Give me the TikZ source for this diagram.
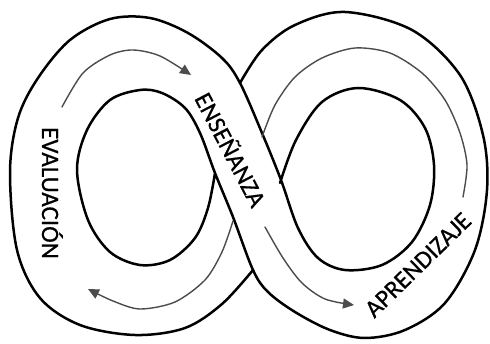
\documentclass[tikz,border=0pt]{standalone}
\usepackage{fontspec}
\setmainfont{Carlito}
\newfontfamily\lblfont[FakeBold=0.6]{Carlito}
\usetikzlibrary{arrows.meta}
\begin{document}
\begin{tikzpicture}[x=1pt,y=-1pt,
  edge/.style={line width=2.5pt, line join=round, line cap=round},
  flow/.style={line width=1.4pt, draw=black!70, line cap=round},
  tip/.style={-{Triangle[length=11pt,width=10pt]}},
  lbl/.style={font=\lblfont\fontsize{25}{25}\selectfont, inner sep=0pt, text height=16pt, text depth=0pt}]
\useasboundingbox[fill=white] (0,0) rectangle (490,344);
% curve P: left loop outer edge, upper-right edge of the over strand, right hole
\draw[edge] plot[smooth, tension=0.55] coordinates {
 (253,270) (222,304) (185,328) (135,335) (80,325) (40,298) (17,250) (10,172)
 (18,118) (38,78) (70,40) (110,19) (150,18) (188,33) (222,58) (240,83)
 (262,133) (281,180) (298,228) (318,258) (345,270) (382,265) (412,242)
 (430,205) (434,165) (425,128) (400,100) (358,88) (322,102) (296,140) (280,183)};
% curve Q: right loop outer edge, lower-left edge of the over strand, left hole
\draw[edge] plot[smooth, tension=0.55] coordinates {
 (240,83) (262,50) (295,25) (345,12) (412,30) (460,75) (483,135) (487,190)
 (475,250) (445,303) (405,330) (365,338) (330,330) (295,312) (268,292)
 (253,270) (233,217) (215,173) (200,133) (185,108) (162,93) (140,90)
 (110,100) (87,130) (77,170) (88,220) (110,252) (140,265) (170,260)
 (195,238) (208,208) (215,173)};
% grey flow lines
\draw[flow, tip] plot[smooth] coordinates {(62,107) (83,73) (110,55) (133,50) (160,56) (191,75)};
\draw[flow, tip] plot[smooth] coordinates {(233,221) (222,252) (205,280) (175,302) (140,309) (113,301) (88,289)};
\draw[flow, tip] plot[smooth] coordinates {(265,227) (283,258) (302,283) (325,299) (354,305)};
\draw[flow] plot[smooth] coordinates {(262,137) (275,105) (295,77) (322,58) (355,48) (390,53) (422,73) (445,100) (460,133) (467,165) (463,197)};
% labels
\node[lbl, rotate=-90] (evaluacion) at (50,193) {EVALUACIÓN};
\node[lbl, rotate=-62.4] (ensenanza) at (230,150) {ENSEÑANZA};
\node[lbl, rotate=44.4] (aprendizaje) at (418,265) {APRENDIZAJE};
\end{tikzpicture}
\end{document}
